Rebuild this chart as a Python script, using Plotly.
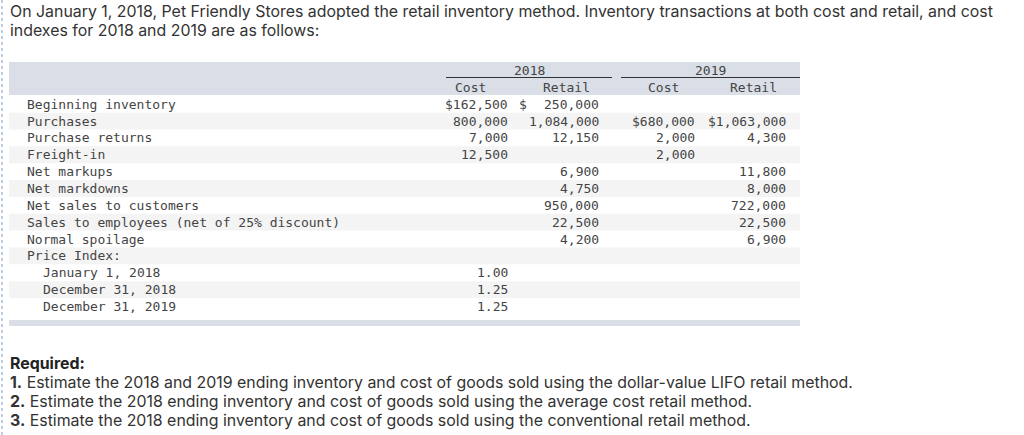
import plotly.graph_objects as go

# ---------------- data ----------------
intro_lines = [
    "On January 1, 2018, Pet Friendly Stores adopted the retail inventory method. Inventory transactions at both cost and retail, and cost",
    "indexes for 2018 and 2019 are as follows:",
]
years = ["2018", "2019"]
sub_headers = ["Cost", "Retail", "Cost", "Retail"]
row_labels = [
    "Beginning inventory", "Purchases", "Purchase returns", "Freight-in",
    "Net markups", "Net markdowns", "Net sales to customers",
    "Sales to employees (net of 25% discount)", "Normal spoilage", "Price Index:",
    "January 1, 2018", "December 31, 2018", "December 31, 2019",
]
row_indent = [0, 0, 0, 0, 0, 0, 0, 0, 0, 0, 1, 1, 1]
cost_2018 = ["$162,500", "800,000", "7,000", "12,500", "", "", "", "", "", "", "1.00", "1.25", "1.25"]
retail_2018 = ["250,000", "1,084,000", "12,150", "", "6,900", "4,750", "950,000", "22,500", "4,200", "", "", "", ""]
retail_2018_dollar = [True] + [False] * 12
cost_2019 = ["", "$680,000", "2,000", "2,000", "", "", "", "", "", "", "", "", ""]
retail_2019 = ["", "$1,063,000", "4,300", "", "11,800", "8,000", "722,000", "22,500", "6,900", "", "", "", ""]
required_title = "Required:"
required_nums = ["1.", "2.", "3."]
required_texts = [
    "Estimate the 2018 and 2019 ending inventory and cost of goods sold using the dollar-value LIFO retail method.",
    "Estimate the 2018 ending inventory and cost of goods sold using the average cost retail method.",
    "Estimate the 2018 ending inventory and cost of goods sold using the conventional retail method.",
]

# ---------------- layout constants ----------------
W, H = 1024, 435
SANS = "Inter, 'Open Sans', Arial, sans-serif"
SANS_SIZE = 15.9
MONO = "'DejaVu Sans Mono', 'Liberation Mono', monospace"
TXT = "#333333"
TBL = "#444444"
HEAD_BG = "#d9dee7"
ALT_BG = "#f4f4f4"

tbl_left, tbl_right = 9, 800
row_y0, row_h = 104.2, 16.85
col_right = [510, 601, 697, 788]

fig = go.Figure()
shapes = []
ann = []

def text(x, y, s, font, size, color, xanchor="left", bold=False):
    ann.append(dict(x=x, y=y, xref="x", yref="y", text=("<b>%s</b>" % s) if bold else s,
                    showarrow=False, xanchor=xanchor, yanchor="middle",
                    font=dict(family=font, size=size, color=color)))

# left dotted border
shapes.append(dict(type="line", x0=2, x1=2, y0=0, y1=H, xref="x", yref="y",
                   line=dict(color="#7d9bc4", width=1, dash="dot")))

# intro text
for i, line in enumerate(intro_lines):
    text(8, 11 + i * 19, line, SANS, SANS_SIZE, TXT)

# header band
shapes.append(dict(type="rect", x0=tbl_left, x1=tbl_right, y0=62, y1=95, xref="x", yref="y",
                   fillcolor=HEAD_BG, line=dict(width=0), layer="below"))
# alternating rows
for i in range(len(row_labels)):
    if i % 2 == 1:
        yc = row_y0 + i * row_h
        shapes.append(dict(type="rect", x0=tbl_left, x1=tbl_right, y0=yc - row_h / 2, y1=yc + row_h / 2,
                           xref="x", yref="y", fillcolor=ALT_BG, line=dict(width=0), layer="below"))
# bottom band
shapes.append(dict(type="rect", x0=tbl_left, x1=tbl_right, y0=320, y1=326, xref="x", yref="y",
                   fillcolor=HEAD_BG, line=dict(width=0), layer="below"))

# year headers with rules
year_spans = [(446, 612), (621, 800)]
for yr, (a, b) in zip(years, year_spans):
    text((a + b) / 2, 70, yr, MONO, 13, TBL, xanchor="center")
    shapes.append(dict(type="line", x0=a, x1=b, y0=77.5, y1=77.5, xref="x", yref="y",
                       line=dict(color="#333333", width=1)))
sub_centers = [470, 566, 663, 753]
for s, cx in zip(sub_headers, sub_centers):
    text(cx, 87.5, s, MONO, 13, TBL, xanchor="center")

# rows
cols = [cost_2018, retail_2018, cost_2019, retail_2019]
for i, lab in enumerate(row_labels):
    yc = row_y0 + i * row_h
    text(25 + 16 * row_indent[i], yc, lab, MONO, 13, TBL)
    for c, vals in enumerate(cols):
        if vals[i]:
            text(col_right[c], yc, vals[i], MONO, 13, TBL, xanchor="right")
    if retail_2018_dollar[i]:
        text(517, yc, "$", MONO, 13, TBL)

# required section
text(8, 363, required_title, SANS, SANS_SIZE, "#222222", bold=True)
for i, (n, t) in enumerate(zip(required_nums, required_texts)):
    ann.append(dict(x=8, y=382 + i * 19, xref="x", yref="y",
                    text="<b>%s</b> %s" % (n, t), showarrow=False, xanchor="left", yanchor="middle",
                    font=dict(family=SANS, size=SANS_SIZE, color=TXT)))

fig.update_layout(
    width=W, height=H, margin=dict(l=0, r=0, t=0, b=0),
    paper_bgcolor="white", plot_bgcolor="white",
    xaxis=dict(range=[0, W], visible=False, fixedrange=True),
    yaxis=dict(range=[H, 0], visible=False, fixedrange=True),
    shapes=shapes, annotations=ann, showlegend=False,
)
fig.write_html("out.html", config={"displayModeBar": False},
               post_script="document.body.style.margin='0';document.body.style.overflow='hidden';")
